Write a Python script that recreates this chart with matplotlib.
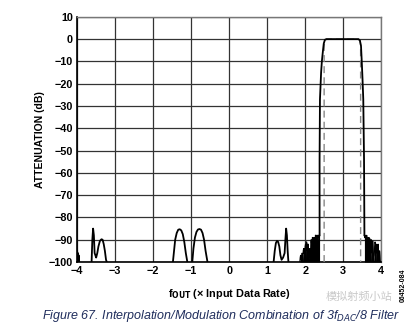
import matplotlib
matplotlib.use('Agg')
import matplotlib.pyplot as plt

plt.rcParams['font.family'] = ['Liberation Sans', 'DejaVu Sans']
plt.rcParams['axes.unicode_minus'] = True

# Filter response traces (f in multiples of input data rate, attenuation in dB)
edge_f = [-4.00, -3.99, -3.98, -3.97, -3.96, -3.95]
edge_db = [-95, -99, -96, -100, -97, -100]

left_spur_f = [-3.62, -3.60, -3.58, -3.56, -3.54, -3.52, -3.50, -3.47, -3.44,
               -3.40, -3.36, -3.33, -3.30, -3.27, -3.24, -3.22]
left_spur_db = [-100, -90, -85, -88, -96, -97, -98, -96, -93,
                -90.5, -89.8, -90, -92, -95, -99, -100]

lobe1_f = [-1.48, -1.45, -1.42, -1.38, -1.34, -1.30, -1.26, -1.22, -1.18, -1.14, -1.10]
lobe1_db = [-100, -95, -90, -87, -85.5, -85.3, -85.8, -87.5, -91, -96, -100]

lobe2_f = [-0.97, -0.94, -0.90, -0.86, -0.82, -0.78, -0.74, -0.70, -0.66, -0.62, -0.57]
lobe2_db = [-100, -94, -89, -86.5, -85.4, -85.2, -85.5, -87, -90, -95, -100]

right_spur_f = [1.17, 1.20, 1.23, 1.26, 1.29, 1.32, 1.35, 1.38, 1.42, 1.46,
                1.48, 1.50, 1.52, 1.54, 1.56]
right_spur_db = [-100, -95, -91.5, -90.5, -91, -93, -97, -99, -98, -96,
                 -90, -85, -88, -95, -100]

# noise floor either side of the passband
noise_lo_f = [1.86, 1.87, 1.88, 1.89, 1.90, 1.91, 1.92, 1.93, 1.94, 1.95, 1.96,
              1.97, 1.98, 1.99, 2.00, 2.01, 2.02, 2.03, 2.04, 2.05, 2.06, 2.07,
              2.08, 2.09, 2.10, 2.11, 2.12, 2.13, 2.14, 2.15, 2.16, 2.17, 2.18,
              2.19, 2.20, 2.21, 2.22, 2.23, 2.24, 2.25, 2.26, 2.27, 2.28, 2.29,
              2.30, 2.31, 2.32, 2.33, 2.34, 2.35, 2.36, 2.37, 2.38]
noise_lo_db = [-100, -98, -97, -99, -97, -100, -96, -97, -100, -95, -94,
               -96, -94, -97, -93, -92, -99, -91, -91, -93, -95, -92,
               -92, -96, -100, -95, -94, -97, -98, -91, -90, -92, -100,
               -89, -89, -93, -96, -89, -89, -91, -100, -88, -88, -90,
               -95, -88, -88, -92, -99, -88, -88, -89, -88]

noise_hi_f = [3.56, 3.57, 3.58, 3.59, 3.60, 3.61, 3.62, 3.63, 3.64, 3.65, 3.66,
              3.67, 3.68, 3.69, 3.70, 3.71, 3.72, 3.73, 3.74, 3.75, 3.76, 3.77,
              3.78, 3.79, 3.80, 3.81, 3.82, 3.83, 3.84, 3.85, 3.86, 3.87, 3.88,
              3.89, 3.90, 3.91, 3.92, 3.93, 3.94, 3.95, 3.96, 3.97, 3.98]
noise_hi_db = [-88, -89, -88, -90, -88.5, -95, -88, -92, -90, -96, -89,
               -93, -89, -97, -89.5, -92, -100, -91, -90, -94, -96, -91,
               -90.5, -95, -100, -98, -97, -93, -91, -92, -100, -95, -92,
               -93, -96, -94, -92, -97, -100, -95, -95, -99, -100]

# passband and skirts
pass_f = [2.38, 2.38, 2.39, 2.42, 2.44, 2.47, 2.49, 2.52, 2.56,
          3.40, 3.44, 3.47, 3.49, 3.51, 3.53, 3.55, 3.56]
pass_db = [-88, -54, -27, -15, -10, -5, -2, -0.3, 0,
           0, -0.5, -3, -10, -18, -27, -54, -88]

# ideal passband outline (dashed)
ideal_f = [2.50, 2.50, 2.52, 2.56, 3.40, 3.44, 3.46, 3.46]
ideal_db = [-100, -3, -0.5, 0, 0, -0.5, -3, -100]

xticks = [-4, -3, -2, -1, 0, 1, 2, 3, 4]
yticks = [10, 0, -10, -20, -30, -40, -50, -60, -70, -80, -90, -100]

fig = plt.figure(figsize=(4.17, 3.30), dpi=100)
ax = fig.add_axes([0.185, 0.206, 0.729, 0.743])

ax.plot(ideal_f, ideal_db, color='#888888', lw=1.0, ls=(0, (5, 3)), zorder=3)
for f, db in [(edge_f, edge_db), (left_spur_f, left_spur_db),
              (lobe1_f, lobe1_db), (lobe2_f, lobe2_db),
              (right_spur_f, right_spur_db), (pass_f, pass_db)]:
    ax.plot(f, db, color='black', lw=1.3, zorder=4)
for f, db in [(noise_lo_f, noise_lo_db), (noise_hi_f, noise_hi_db)]:
    ax.fill_between(f, db, -100, color='black', lw=0, zorder=4)
    ax.plot(f, db, color='black', lw=0.8, zorder=4)

ax.set_xlim(-4, 4)
ax.set_ylim(-100, 10)
ax.set_xticks(xticks)
ax.set_yticks(yticks)
ax.grid(True, color='#333333', lw=0.9)
ax.set_axisbelow(True)
ax.tick_params(length=0, pad=3, labelsize=7.8)
for lab in ax.get_xticklabels() + ax.get_yticklabels():
    lab.set_fontweight('bold')
for s in ['left', 'bottom']:
    ax.spines[s].set_color('black')
    ax.spines[s].set_linewidth(1.2)
for s in ['top', 'right']:
    ax.spines[s].set_color('#777777')
    ax.spines[s].set_linewidth(1.0)

ax.set_ylabel('ATTENUATION (dB)', fontsize=7.5, fontweight='bold', labelpad=3)
ax.set_xlabel(r'f$_{\mathbf{OUT}}$ (× Input Data Rate)', fontsize=7.8,
              fontweight='bold', labelpad=8)

fig.text(0.967, 0.135, '06452-084', rotation=90, fontsize=5,
         fontweight='bold', ha='center', va='center')

fig.text(0.100, 0.042, r'Figure 67. Interpolation/Modulation Combination of 3f$_{DAC}$/8 Filter',
         fontsize=9.0, style='italic', color='#1f2d5c', ha='left', va='center')
fig.text(0.86, 0.10, '模拟射频小站', fontsize=8, color='#bbbbbb', alpha=0.8,
         family=['Noto Sans CJK SC', 'DejaVu Sans'], ha='center', va='center')

fig.savefig('out.png', dpi=100)
